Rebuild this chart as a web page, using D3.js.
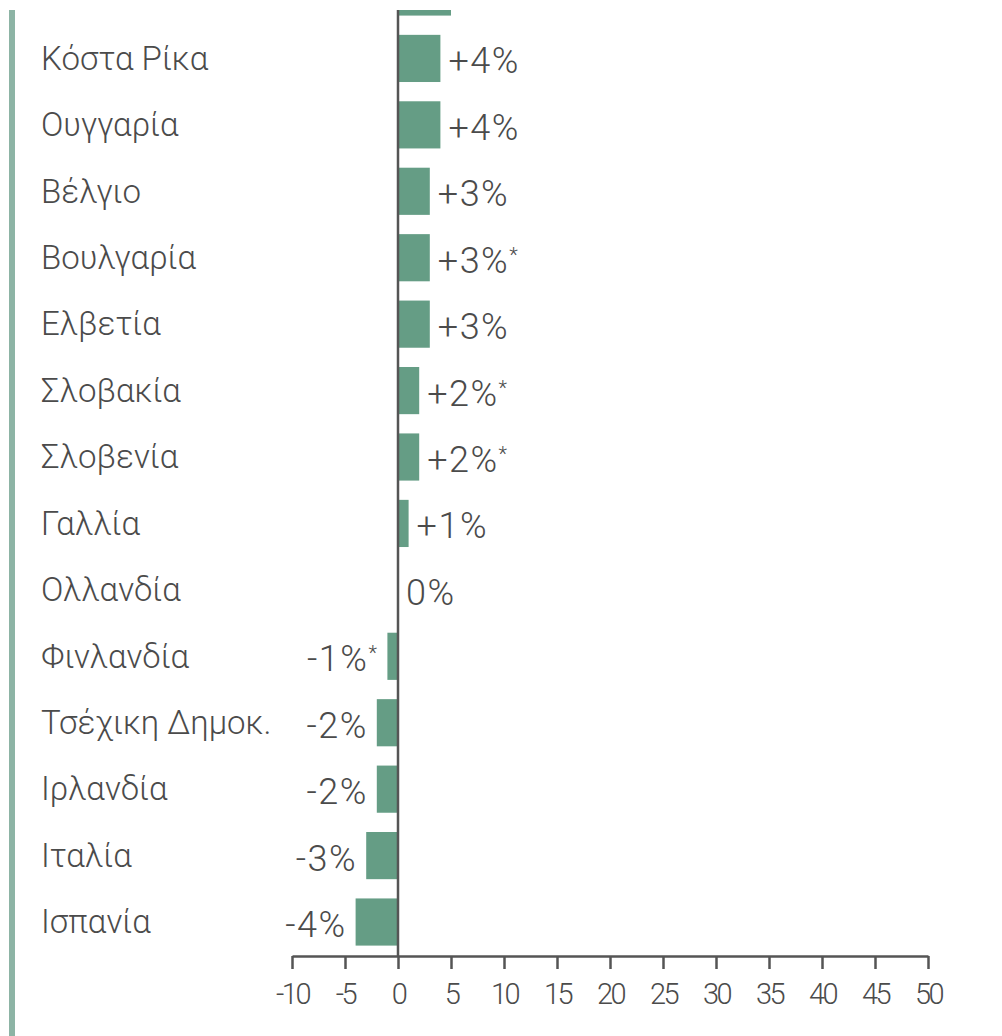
<!DOCTYPE html>
<html>
<head>
<meta charset="utf-8">
<script src="https://cdn.jsdelivr.net/npm/d3@7"></script>
<style>
  html, body { margin: 0; padding: 0; background: #fff; }
  svg { display: block; }
</style>
</head>
<body>
<script>
// ---- data ----
const categories = ["(προηγ.)", "Κόστα Ρίκα", "Ουγγαρία", "Βέλγιο", "Βουλγαρία", "Ελβετία", "Σλοβακία", "Σλοβενία", "Γαλλία", "Ολλανδία", "Φινλανδία", "Τσέχικη Δημοκ.", "Ιρλανδία", "Ιταλία", "Ισπανία"];
const values = [5, 4, 4, 3, 3, 3, 2, 2, 1, 0, -1, -2, -2, -3, -4];
const asterisk = [false, false, false, false, true, false, true, true, false, false, true, false, false, false, false];
const tickValues = [-10, -5, 0, 5, 10, 15, 20, 25, 30, 35, 40, 45, 50];

const W = 1002, H = 1036;
const rows = categories.map((c, i) => ({ name: c, value: values[i], star: asterisk[i], idx: i }));
const visible = rows.slice(1); // first row is cropped at the top edge in the reference

const svg = d3.select("body").append("svg").attr("width", W).attr("height", H);

svg.append("defs").append("clipPath").attr("id", "clip")
  .append("rect").attr("x", 0).attr("y", 10).attr("width", W).attr("height", H - 10);

const g = svg.append("g").attr("clip-path", "url(#clip)");

const x = d3.scaleLinear().domain([-10, 50]).range([292, 928]);
const step = 66.43;
const y = d3.scaleBand().domain(d3.range(rows.length))
  .range([-8 - step / 2, -8 - step / 2 + step * rows.length])
  .paddingInner(0.29).paddingOuter(0.145);

const textColor = "#4b4b4b";
const font = "Roboto, 'Open Sans', 'Noto Sans', sans-serif";

// left accent bar
g.append("rect").attr("x", 9).attr("y", 0).attr("width", 6).attr("height", H).attr("fill", "#8db4a5");

// bars
g.selectAll("rect.bar").data(rows.filter(d => d.value !== 0)).join("rect")
  .attr("class", "bar")
  .attr("x", d => x(Math.min(0, d.value)))
  .attr("width", d => Math.abs(x(d.value) - x(0)))
  .attr("y", d => y(d.idx))
  .attr("height", y.bandwidth())
  .attr("fill", "#659d85");

// category labels
g.selectAll("text.cat").data(visible).join("text")
  .attr("class", "cat")
  .attr("x", 41)
  .attr("y", d => y(d.idx) + y.bandwidth() / 2)
  .attr("dy", "0.34em")
  .attr("font-family", font)
  .attr("font-weight", 300)
  .attr("font-size", 33)
  .attr("fill", textColor)
  .text(d => d.name);

// value labels
const fmt = v => (v > 0 ? "+" : "") + v + "%";
const vl = g.selectAll("text.val").data(visible).join("text")
  .attr("class", "val")
  .attr("x", d => d.value < 0 ? x(d.value) - 9 : x(Math.max(0, d.value)) + 8)
  .attr("y", d => y(d.idx) + y.bandwidth() / 2 + 2)
  .attr("dy", "0.36em")
  .attr("text-anchor", d => d.value < 0 ? "end" : "start")
  .attr("font-family", font)
  .attr("font-weight", 300)
  .attr("font-size", 36)
  .attr("letter-spacing", 1.5)
  .attr("fill", textColor);
vl.append("tspan").text(d => fmt(d.value));
vl.filter(d => d.star).append("tspan")
  .attr("font-size", 20).attr("dy", "-0.55em").text("*");

// zero line
g.append("line")
  .attr("x1", x(0)).attr("x2", x(0))
  .attr("y1", 0).attr("y2", 956)
  .attr("stroke", "#555").attr("stroke-width", 2.5);

// axis
const axis = d3.axisBottom(x).tickValues(tickValues).tickSize(13).tickSizeOuter(0).tickPadding(14)
  .tickFormat(d => String(d));
const ax = svg.append("g").attr("transform", "translate(0,956)").call(axis);
ax.select(".domain").attr("stroke", "#555").attr("stroke-width", 2.5);
ax.selectAll(".tick line").attr("stroke", "#555").attr("stroke-width", 2.5);
ax.selectAll(".tick text")
  .attr("font-family", font)
  .attr("font-weight", 300)
  .attr("font-size", 29)
  .attr("letter-spacing", -2.5)
  .attr("fill", textColor);
</script>
</body>
</html>
